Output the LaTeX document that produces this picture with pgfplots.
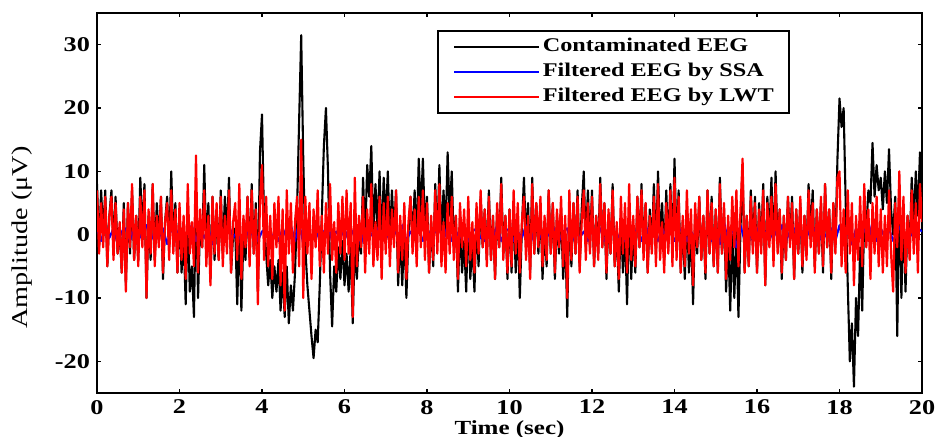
\documentclass[border=0pt]{standalone}
\usepackage{fontspec}
\setmainfont{Liberation Serif}[FakeStretch=1.25]
\usepackage{pgfplots}
\pgfplotsset{compat=1.18}
\usepackage{pgfplotstable}

% contaminated (b) and LWT-filtered (r) EEG, one row per 0.05 s, one line per second
\pgfplotstableread[row sep=\\]{
b r\\
8 7\\ -2 -3\\ 7 5\\ 0 -2\\ 7 6\\ -5 -5\\ 3 3\\ 7 6\\ -2 -4\\ 6 5\\ -3 -3\\ 1 2\\ -6 -6\\ 5 4\\ -8 -9\\ 5 5\\ -3 -2\\ 7 8\\ -4 -4\\ 3 3\\
-4 -5\\ 9 6\\ 0 -2\\ 8 7\\ -10 -10\\ 3 4\\ -4 -3\\ 8 8\\ -4 -5\\ 5 3\\ -1 -2\\ 6 6\\ -7 -6\\ 2 2\\ 6 5\\ -2 -4\\ 10 7\\ -1 -3\\ 5 4\\ -6 -6\\
4 5\\ -6 -4\\ 0 3\\ -11 -7\\ 3 8\\ -9 -3\\ -5 2\\ -13 -5\\ 6.5 12.5\\ -10 -6\\ 2 4\\ -2 -2\\ 11 7\\ -2 -5\\ 5 3\\ -7 -8\\ 6 6\\ -4 -3\\ 4 5\\ -4 -4\\
7 6\\ -3 -5\\ 6 3\\ 0 -3\\ 9 7\\ -6 -6\\ 0 2\\ 1 5\\ -11 -4\\ 2 8\\ -12 -7\\ 0 3\\ -4 -2\\ 6 6\\ -4 -5\\ 8 7\\ -3 -3\\ 5 4\\ -9 -11\\ 13 5\\
19 11\\ 2 -4\\ -3 6\\ -8 -5\\ -4 3\\ -10 -7\\ -5 5\\ -9 -2\\ -4 6\\ -12 -8\\ -6 4\\ -13 -12\\ -5 7\\ -14 -3\\ -8 5\\ -12 -6\\ -6 2\\ 4 6\\ 18 -5\\ 31.5 15\\
12 -10\\ -2 6\\ -8 -3\\ -12 5\\ -16 -7\\ -19.5 4\\ -15 -2\\ -17 7\\ -8 -5\\ 3 3\\ 14 -6\\ 20 5\\ 10 -3\\ -6 8\\ -14.5 -4\\ -5 2\\ -9 -6\\ -2 5\\ -7 -3\\ -1 6\\
-8 -4\\ -3 7\\ -9 -3\\ -2 5\\ -14 -13\\ -1 9\\ -7 -5\\ 0 3\\ -3 -2\\ 9 6\\ -1 -6\\ 11 4\\ 6 -3\\ 14 8\\ 0 -5\\ 8 2\\ 1 -4\\ 10 6\\ -2 -7\\ 9 5\\
2 -3\\ 10 6\\ -1 -5\\ 7 4\\ 0 -2\\ 7 7\\ -8 -6\\ 0 3\\ -8 -4\\ 1 5\\ -10 -7\\ 0 2\\ 6 6\\ -1 -3\\ 7 4\\ -1 -5\\ 12 6\\ 3 -2\\ 12 7\\ 1 -4\\
6 5\\ -6 -6\\ 2 3\\ -5 -4\\ 8 7\\ -1 -3\\ 11 8\\ -1 -5\\ 7 2\\ 0 -6\\ 13 5\\ 3 -3\\ 10 6\\ -2 -4\\ 3 3\\ -9 -7\\ 2 5\\ -6 -2\\ -1 4\\ -9 -5\\
3 6\\ -7 -4\\ -1 2\\ -9 -6\\ 3 5\\ -5 -3\\ 6 7\\ -2 -2\\ 4 4\\ -4 -5\\ 7 6\\ -4 -4\\ 3 3\\ -7 -7\\ 4 5\\ -2 -2\\ 9 8\\ -3 -4\\ 3 3\\ -7 -6\\
4 4\\ -6 -5\\ 5 7\\ -6 -3\\ 2 5\\ -10 -6\\ 1 2\\ 9 6\\ -1 -4\\ 5 3\\ -6 -7\\ 9 8\\ -3 -3\\ 5 5\\ -3 -2\\ 5 6\\ -7 -5\\ 1 3\\ -5 -4\\ 7 7\\
-3 -3\\ 5 5\\ -7 -6\\ 3 4\\ -3 -2\\ 4 6\\ -7 -5\\ 0 3\\ -13 -10\\ 5 7\\ -5 -4\\ 5 5\\ -3 -3\\ 7 6\\ -5 -6\\ 4 2\\ 10 7\\ -2 -4\\ 7 5\\ -2 -3\\
7 6\\ -5 -5\\ 3 3\\ -3 -4\\ 9 8\\ -2 -2\\ 5 5\\ -7 -6\\ 3 4\\ -3 -3\\ 8 7\\ -5 -5\\ 1 2\\ -9 -7\\ 3 6\\ -6 -3\\ 1 5\\ -11 -6\\ 5 8\\ -7 -4\\
1 3\\ -6 -5\\ 6 6\\ -2 -2\\ 8 7\\ -3 -4\\ 5 5\\ -6 -6\\ 4 3\\ -2 -3\\ 8 6\\ -3 -5\\ 10 8\\ -1 -4\\ 5 2\\ -4 -6\\ 7 5\\ -2 -3\\ 8 7\\ -3 -5\\
12 9\\ -2 -4\\ 7 6\\ -6 -6\\ 2 3\\ -7 -5\\ 4 7\\ -6 -3\\ 1 4\\ -11 -8\\ 3 5\\ -3 -2\\ 6 6\\ -4 -4\\ 3 3\\ -7 -6\\ 7 7\\ -3 -3\\ 6 5\\ -5 -5\\
4 4\\ -6 -6\\ 9 8\\ -3 -3\\ 4 5\\ -9 -7\\ 0 3\\ -12 -4\\ 0 6\\ -10 -2\\ 1 7\\ -13 -5\\ 1 4\\ 11 12\\ -6 -6\\ 3 3\\ -5 -5\\ 7 6\\ -2 -3\\ 6 5\\
-6 -6\\ 5 4\\ -2 -3\\ 8 7\\ -8 -8\\ 6 5\\ 0 -2\\ 9 6\\ -3 -5\\ 10 8\\ -2 -3\\ 4 4\\ -7 -6\\ 3 3\\ -4 -4\\ 6 6\\ -1 -2\\ 6 5\\ -7 -7\\ 4 4\\
-3 -3\\ 5 6\\ -6 -5\\ 3 3\\ -3 -4\\ 8 7\\ 0 -2\\ 7 5\\ -5 -6\\ 4 4\\ -3 -3\\ 5 6\\ -6 -5\\ 8 8\\ -2 -2\\ 4 4\\ -7 -6\\ 5 5\\ -2 -3\\ 12 9\\
21.5 10\\ 17 -5\\ 20 4\\ 5 -6\\ -8 7\\ -20 -3\\ -14 5\\ -24 -8\\ -10 3\\ -16 -4\\ -2 6\\ -12 -5\\ 3 8\\ 1 -2\\ 7 4\\ 5 -7\\ 14.5 5\\ 6 -3\\ 11 6\\ 7 -5\\
9 4\\ 4 -6\\ 10 3\\ 5 -5\\ 13.5 7\\ 4 -3\\ 0 -9\\ 6 5\\ -16 -2\\ 8 10\\ -10 -4\\ 4 6\\ -9 -6\\ 3 3\\ -3 -4\\ 9 7\\ 2 -3\\ 10 5\\ 3 -6\\ 13 8\\
6 2\\
}\eeg

% SSA-filtered EEG, one row per 0.1 s
\pgfplotstableread[row sep=\\]{
v\\
1\\ -1\\ 1.5\\ -0.5\\ 1\\ -1.5\\ 0.5\\ 1\\ -1\\ 1.5\\
-1\\ 0.5\\ 1.5\\ -1\\ 0.5\\ -0.5\\ 1\\ -1.5\\ 1\\ -0.5\\
1\\ -1\\ 0.5\\ 1.5\\ -1\\ 1\\ -0.5\\ 1\\ -1.5\\ 0.5\\
1\\ -1\\ 1.5\\ -0.5\\ 0.5\\ -1\\ 1\\ -0.5\\ 1.5\\ -1\\
0.5\\ 1\\ -1.5\\ 0.5\\ -1\\ 1\\ -0.5\\ 1.5\\ -1\\ 2\\
-1.5\\ 1\\ -0.5\\ 1\\ -1\\ 0.5\\ 1.5\\ -1\\ 0.5\\ -0.5\\
1\\ -1\\ 0.5\\ 1.5\\ -1.5\\ 1\\ -0.5\\ 0.5\\ 1\\ -1\\
0.5\\ -1\\ 1\\ -0.5\\ 1.5\\ -1\\ 0.5\\ -0.5\\ 1\\ -1\\
1\\ -0.5\\ 0.5\\ 1\\ -1\\ 1.5\\ -1\\ 0.5\\ -0.5\\ 1\\
-1\\ 0.5\\ 1\\ -0.5\\ -1\\ 1\\ -0.5\\ 1.5\\ -1\\ 0.5\\
1\\ -1\\ 0.5\\ -0.5\\ 1.5\\ -1.5\\ 0.5\\ 1\\ -1\\ 0.5\\
-0.5\\ 1\\ -1\\ 0.5\\ 1\\ -1.5\\ 1\\ -0.5\\ 0.5\\ -1\\
1\\ -0.5\\ 1\\ -1\\ 0.5\\ 1.5\\ -1\\ 0.5\\ -1\\ 1\\
-0.5\\ 1\\ -1\\ 1.5\\ -0.5\\ 0.5\\ -1\\ 1\\ -0.5\\ 1\\
-1\\ 0.5\\ 1\\ -1\\ 0.5\\ -0.5\\ 1.5\\ -1\\ 0.5\\ -1\\
1\\ -1.5\\ 2\\ -1\\ 1\\ -2\\ 1.5\\ -1\\ 0.5\\ -1\\
1\\ -0.5\\ 0.5\\ -1\\ 1\\ -0.5\\ 1.5\\ -1\\ 0.5\\ 1\\
-1\\ 0.5\\ 1\\ -0.5\\ 1\\ -1\\ 0.5\\ -0.5\\ 1\\ -1\\
1.5\\ -1\\ 0.5\\ -1.5\\ 1\\ -0.5\\ 1\\ -1\\ 2\\ -1\\
1\\ -0.5\\ 1\\ -1\\ 0.5\\ 1.5\\ -1\\ 0.5\\ -0.5\\ 1\\
0.5\\
}\ssa

\begin{document}
\begin{tikzpicture}
\begin{axis}[
  scale only axis, width=412.5pt, height=190pt,
  xmin=0, xmax=20, ymin=-25, ymax=35,
  xtick={0,2,...,20}, ytick={-20,-10,...,30},
  tick align=inside, major tick length=2pt,
  axis line style={line width=0.7pt},
  every tick/.style={black, line width=0.6pt},
  tick label style={font=\fontsize{10.5}{12}\selectfont\bfseries},
  /pgf/number format/assume math mode=true,
  xlabel={Time (sec)},
  xlabel style={font=\fontsize{10}{12}\selectfont\bfseries, at={(axis description cs:0.5,0)}, anchor=north, yshift=-13.5pt, inner sep=0pt},
  ylabel={Amplitude (μV)},
  ylabel style={font=\fontsize{11.3}{13}\selectfont, at={(axis description cs:-0.0909,0.409)}, anchor=center},
  legend cell align=left,
  legend image code/.code={\path (-1.5pt,0pt); \draw[#1, line width=0.6pt] (0pt,0pt) -- (42.5pt,0pt);},
  legend style={at={(axis description cs:0.4121,0.9553)}, anchor=north west,
    draw=black, line width=1.1pt, inner xsep=6pt, inner ysep=1.75pt, row sep=0pt,
    font=\fontsize{9.7}{11}\selectfont\bfseries,
    nodes={inner sep=1.5pt, text height=7pt, text depth=2.5pt}},
]
\addplot[black, line width=1.05pt, line join=round] table[x expr=\coordindex*0.05, y=b] {\eeg};
\addlegendentry{Contaminated EEG}
\addplot[blue, line width=1.05pt, line join=round] table[x expr=\coordindex*0.1, y=v] {\ssa};
\addlegendentry{Filtered EEG by SSA}
\addplot[red, line width=1.1pt, line join=round] table[x expr=\coordindex*0.05, y=r] {\eeg};
\addlegendentry{Filtered EEG by LWT}
\end{axis}
\pgfresetboundingbox
\useasboundingbox (-48.5pt,-21.5pt) rectangle (419pt,196.5pt);
\end{tikzpicture}
\end{document}
